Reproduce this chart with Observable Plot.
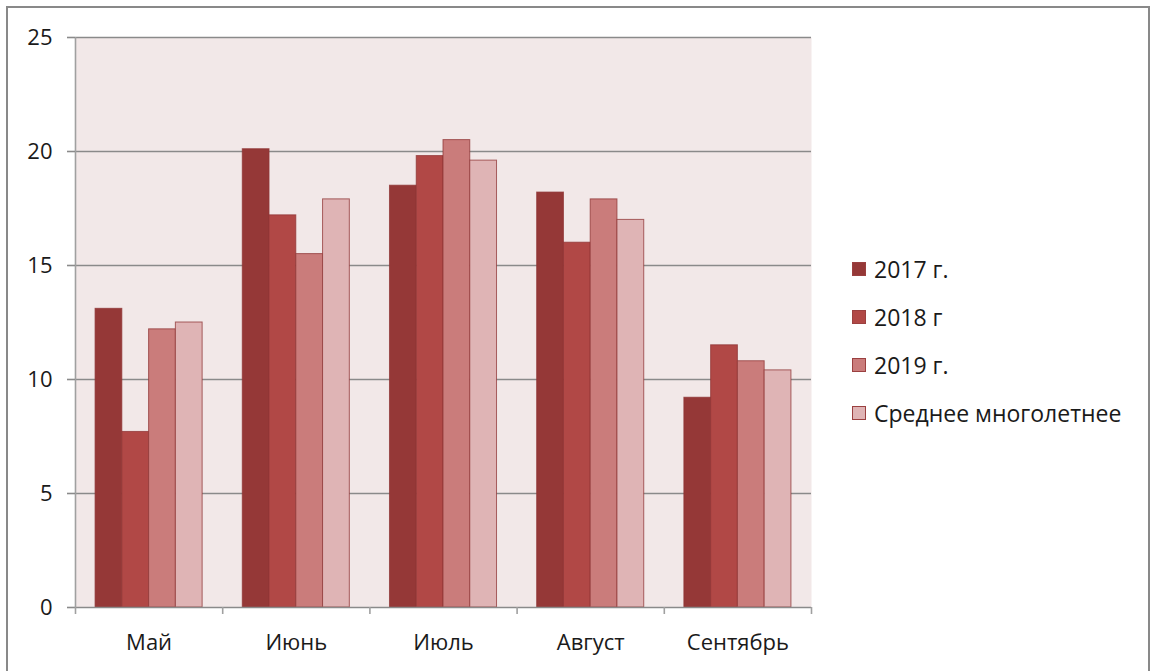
<!DOCTYPE html>
<html>
<head>
<meta charset="utf-8">
<script src="https://cdn.jsdelivr.net/npm/d3@7"></script>
<script src="https://cdn.jsdelivr.net/npm/@observablehq/plot@0.6"></script>
<style>
  body { margin: 0; background: #fff; }
  #wrap { position: relative; width: 1151px; height: 671px; overflow: hidden; font-family: "Open Sans", sans-serif; }
  #border { position: absolute; left: 6px; top: 6px; width: 1140px; height: 720px; border: 2px solid #898989; pointer-events: none; }
  #legend { position: absolute; left: 852px; top: 245px; font-size: 23px; color: #1a1a1a; }
  #legend .item { display: flex; align-items: center; height: 48px; white-space: nowrap; }
  #legend .sw { width: 14px; height: 14px; margin-right: 8px; box-sizing: border-box; border: 1px solid #9b4040; }
</style>
</head>
<body>
<div id="wrap">
  <div id="chart"></div>
  <div id="legend"></div>
  <div id="border"></div>
</div>
<script>
// Monthly values per series
const months = ["Май", "Июнь", "Июль", "Август", "Сентябрь"];
const series = ["2017 г.", "2018 г", "2019 г.", "Среднее многолетнее"];
const v2017 = [13.1, 20.1, 18.5, 18.2, 9.2];
const v2018 = [7.7, 17.2, 19.8, 16.0, 11.5];
const v2019 = [12.2, 15.5, 20.5, 17.9, 10.8];
const vAvg  = [12.5, 17.9, 19.6, 17.0, 10.4];
const yTicks = [0, 5, 10, 15, 20, 25];
const colors = ["#953837", "#b14846", "#ca7c7b", "#dfb4b5"];

const valuesBySeries = [v2017, v2018, v2019, vAvg];
const rows = [];
months.forEach((m, mi) => {
  series.forEach((s, si) => {
    rows.push({month: m, mi, series: s, si, value: valuesBySeries[si][mi]});
  });
});

// clustered layout: gap between groups is 150% of a bar width
const gapRatio = 1.5;
const barW = 1 / (series.length + gapRatio);
const pad = barW * gapRatio / 2;

const grid = "#8a8a8a";

const chart = Plot.plot({
  width: 1151,
  height: 671,
  marginLeft: 75,
  marginRight: 340,
  marginTop: 37,
  marginBottom: 64,
  style: {fontFamily: "'Open Sans', sans-serif", fontSize: "22px", color: "#1a1a1a", background: "transparent"},
  x: {domain: [0, months.length], axis: null},
  y: {domain: [0, 25], axis: null},
  color: {domain: series, range: colors},
  marks: [
    Plot.frame({fill: "#f2e8e8", stroke: "none"}),
    Plot.gridY(yTicks.filter(t => t > 0), {stroke: grid, strokeOpacity: 1, strokeWidth: 1.6}),
    Plot.rectY(rows, {
      x1: d => d.mi + pad + d.si * barW,
      x2: d => d.mi + pad + (d.si + 1) * barW,
      y1: 0,
      y2: "value",
      fill: "series",
      stroke: "#8f3434",
      strokeOpacity: 0.75,
      strokeWidth: 1
    }),
    Plot.ruleY([0], {stroke: grid, strokeWidth: 1.6}),
    Plot.ruleX([0], {y1: 0, y2: 25, stroke: "#a0a0a0", strokeWidth: 1.6}),
    Plot.axisY({ticks: yTicks, tickSize: 8, tickPadding: 15, stroke: grid, strokeWidth: 1.6, fill: "#1a1a1a", label: null}),
    Plot.axisX({ticks: d3.range(months.length + 1), tickSize: 7, tickFormat: () => "", stroke: "#a0a0a0", strokeWidth: 1.6, label: null}),
    Plot.axisX({ticks: months.map((m, i) => i + 0.5), tickSize: 0, tickPadding: 27, tickFormat: t => months[Math.round(t - 0.5)], fill: "#1a1a1a", label: null})
  ]
});
document.getElementById("chart").append(chart);

const legend = d3.select("#legend");
series.forEach((s, i) => {
  const item = legend.append("div").attr("class", "item");
  item.append("div").attr("class", "sw").style("background", colors[i]);
  item.append("span").text(s);
});
</script>
</body>
</html>
